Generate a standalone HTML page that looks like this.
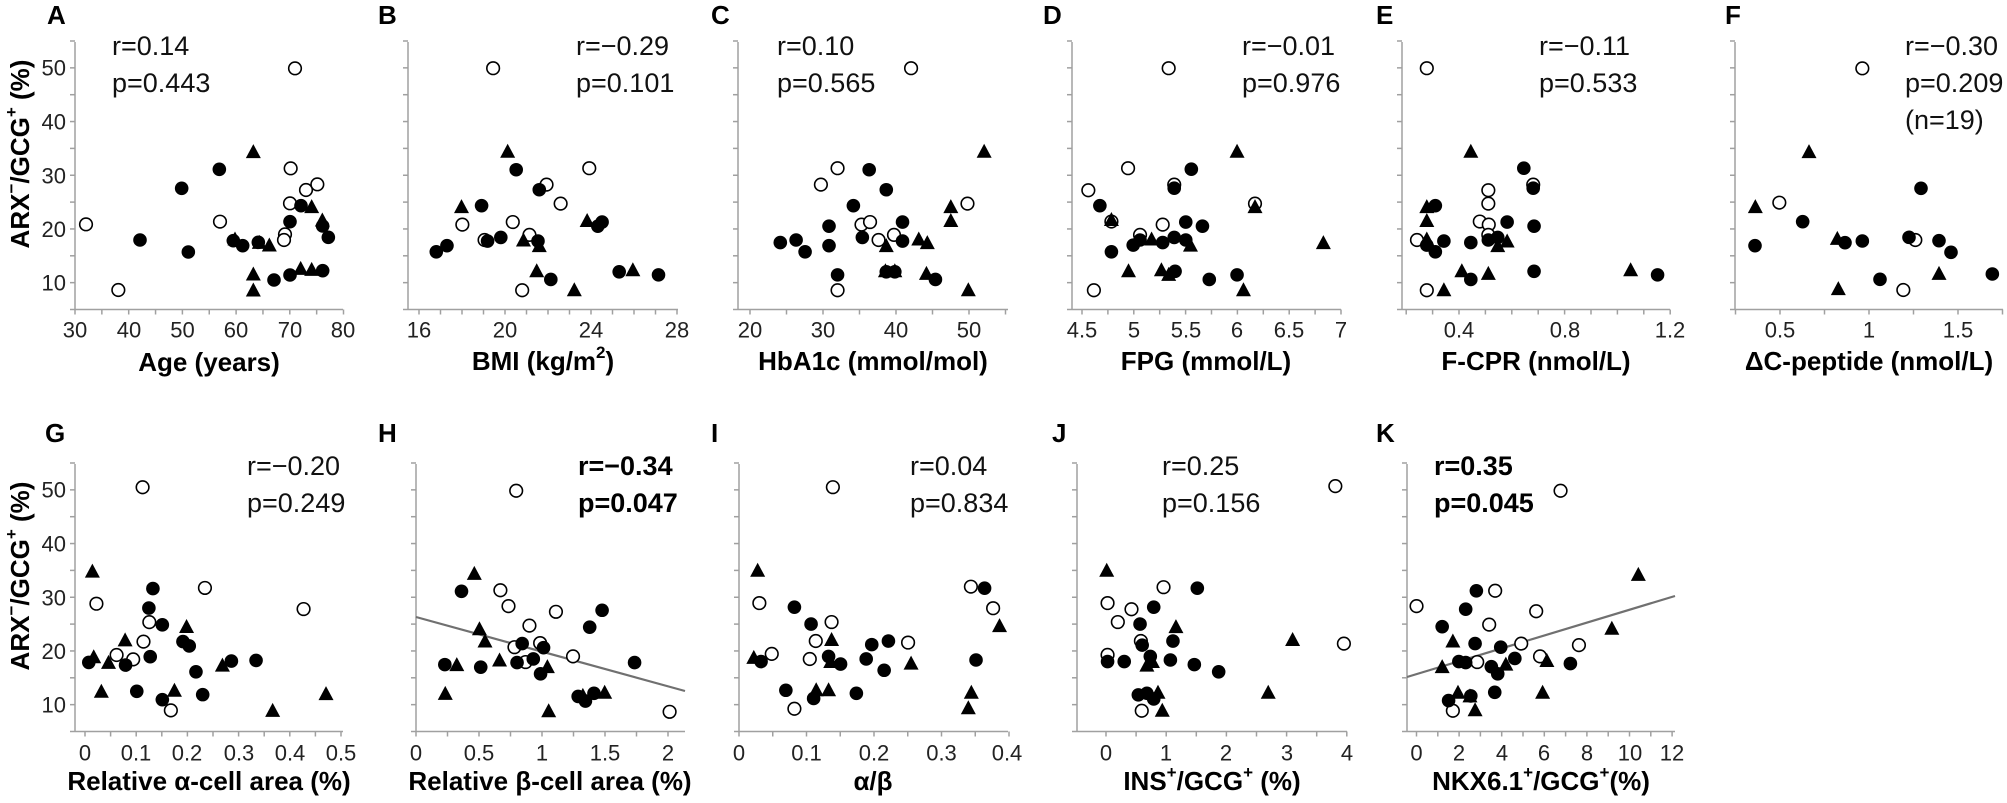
<!DOCTYPE html>
<html><head><meta charset="utf-8"><style>
html,body{margin:0;padding:0;background:#fff}
svg{display:block}
text{font-family:"Liberation Sans",Arial,sans-serif;fill:#222}
.t{font-size:22px;text-anchor:middle;dominant-baseline:central}
.yl{font-size:22px;text-anchor:end;dominant-baseline:central}
.ti{font-size:26px;font-weight:bold;text-anchor:middle;dominant-baseline:central;fill:#000}
.L{font-size:26px;font-weight:bold;dominant-baseline:central;fill:#000}
.s{font-size:27px;dominant-baseline:central;fill:#111}
.b{font-weight:bold;fill:#000}
</style></head><body>
<svg id="sv" width="2007" height="803" viewBox="0 0 2007 803" xmlns="http://www.w3.org/2000/svg">
<g id="ax" stroke="#a0a0a0" stroke-width="1.5" fill="none"></g>
<line x1="416" y1="617" x2="685" y2="691" stroke="#707070" stroke-width="2.2"/>
<line x1="1407" y1="677" x2="1675" y2="596" stroke="#707070" stroke-width="2.2"/>
<g id="m"></g>
<!-- letters -->
<text class="L" x="47" y="15">A</text><text class="L" x="378" y="15">B</text><text class="L" x="711" y="15">C</text>
<text class="L" x="1043" y="15">D</text><text class="L" x="1376" y="15">E</text><text class="L" x="1725" y="15">F</text>
<text class="L" x="45" y="433">G</text><text class="L" x="378" y="433">H</text><text class="L" x="711" y="433">I</text>
<text class="L" x="1052" y="433">J</text><text class="L" x="1376" y="433">K</text>
<!-- stats -->
<text class="s" x="112" y="46">r=0.14</text><text class="s" x="112" y="83">p=0.443</text>
<text class="s" x="576" y="46">r=−0.29</text><text class="s" x="576" y="83">p=0.101</text>
<text class="s" x="777" y="46">r=0.10</text><text class="s" x="777" y="83">p=0.565</text>
<text class="s" x="1242" y="46">r=−0.01</text><text class="s" x="1242" y="83">p=0.976</text>
<text class="s" x="1539" y="46">r=−0.11</text><text class="s" x="1539" y="83">p=0.533</text>
<text class="s" x="1905" y="46">r=−0.30</text><text class="s" x="1905" y="83">p=0.209</text><text class="s" x="1905" y="120">(n=19)</text>
<text class="s" x="247" y="466">r=−0.20</text><text class="s" x="247" y="503">p=0.249</text>
<text class="s b" x="578" y="466">r=−0.34</text><text class="s b" x="578" y="503">p=0.047</text>
<text class="s" x="910" y="466">r=0.04</text><text class="s" x="910" y="503">p=0.834</text>
<text class="s" x="1162" y="466">r=0.25</text><text class="s" x="1162" y="503">p=0.156</text>
<text class="s b" x="1434" y="466">r=0.35</text><text class="s b" x="1434" y="503">p=0.045</text>
<!-- y labels -->
<text class="yl" x="66" y="283">10</text><text class="yl" x="66" y="229.5">20</text><text class="yl" x="66" y="176">30</text><text class="yl" x="66" y="122">40</text><text class="yl" x="66" y="68">50</text>
<text class="yl" x="66" y="705">10</text><text class="yl" x="66" y="651.5">20</text><text class="yl" x="66" y="598">30</text><text class="yl" x="66" y="544">40</text><text class="yl" x="66" y="490">50</text>
<text class="ti" transform="translate(20,154) rotate(-90)">ARX<tspan font-size="17" dy="-9">−</tspan><tspan dy="9">/GCG</tspan><tspan font-size="17" dy="-9">+</tspan><tspan dy="9"> (%)</tspan></text>
<text class="ti" transform="translate(20,576) rotate(-90)">ARX<tspan font-size="17" dy="-9">−</tspan><tspan dy="9">/GCG</tspan><tspan font-size="17" dy="-9">+</tspan><tspan dy="9"> (%)</tspan></text>
<!-- x tick labels top -->
<g class="t">
<text class="t" x="75" y="330">30</text><text class="t" x="129" y="330">40</text><text class="t" x="182.5" y="330">50</text><text class="t" x="236" y="330">60</text><text class="t" x="290" y="330">70</text><text class="t" x="343" y="330">80</text>
<text class="t" x="419" y="330">16</text><text class="t" x="505" y="330">20</text><text class="t" x="591" y="330">24</text><text class="t" x="677" y="330">28</text>
<text class="t" x="750" y="330">20</text><text class="t" x="823" y="330">30</text><text class="t" x="896" y="330">40</text><text class="t" x="969" y="330">50</text>
<text class="t" x="1082" y="330">4.5</text><text class="t" x="1134" y="330">5</text><text class="t" x="1186" y="330">5.5</text><text class="t" x="1237" y="330">6</text><text class="t" x="1289" y="330">6.5</text><text class="t" x="1341" y="330">7</text>
<text class="t" x="1459" y="330">0.4</text><text class="t" x="1565" y="330">0.8</text><text class="t" x="1670" y="330">1.2</text>
<text class="t" x="1780" y="330">0.5</text><text class="t" x="1869" y="330">1</text><text class="t" x="1958" y="330">1.5</text>
<!-- bottom -->
<text class="t" x="85" y="753">0</text><text class="t" x="136" y="753">0.1</text><text class="t" x="187" y="753">0.2</text><text class="t" x="239" y="753">0.3</text><text class="t" x="290" y="753">0.4</text><text class="t" x="341" y="753">0.5</text>
<text class="t" x="416" y="753">0</text><text class="t" x="479" y="753">0.5</text><text class="t" x="542" y="753">1</text><text class="t" x="605" y="753">1.5</text><text class="t" x="668" y="753">2</text>
<text class="t" x="739" y="753">0</text><text class="t" x="806.5" y="753">0.1</text><text class="t" x="874" y="753">0.2</text><text class="t" x="941.5" y="753">0.3</text><text class="t" x="1007" y="753">0.4</text>
<text class="t" x="1106" y="753">0</text><text class="t" x="1166" y="753">1</text><text class="t" x="1226" y="753">2</text><text class="t" x="1287" y="753">3</text><text class="t" x="1347" y="753">4</text>
<text class="t" x="1416.5" y="753">0</text><text class="t" x="1459" y="753">2</text><text class="t" x="1502" y="753">4</text><text class="t" x="1544" y="753">6</text><text class="t" x="1587" y="753">8</text><text class="t" x="1630" y="753">10</text><text class="t" x="1672" y="753">12</text>
</g>
<!-- axis titles -->
<text class="ti" x="209" y="362">Age (years)</text>
<text class="ti" x="543" y="361">BMI (kg/m<tspan font-size="17" dy="-9">2</tspan><tspan dy="9">)</tspan></text>
<text class="ti" x="873" y="361">HbA1c (mmol/mol)</text>
<text class="ti" x="1206" y="361">FPG (mmol/L)</text>
<text class="ti" x="1536" y="361">F-CPR (nmol/L)</text>
<text class="ti" x="1869" y="361">ΔC-peptide (nmol/L)</text>
<text class="ti" x="209" y="781">Relative α-cell area (%)</text>
<text class="ti" x="550" y="781">Relative β-cell area (%)</text>
<text class="ti" x="873" y="781">α/β</text>
<text class="ti" x="1212" y="781">INS<tspan font-size="17" dy="-9">+</tspan><tspan dy="9">/GCG</tspan><tspan font-size="17" dy="-9">+</tspan><tspan dy="9"> (%)</tspan></text>
<text class="ti" x="1541" y="781">NKX6.1<tspan font-size="17" dy="-9">+</tspan><tspan dy="9">/GCG</tspan><tspan font-size="17" dy="-9">+</tspan><tspan dy="9">(%)</tspan></text>
</svg>
<script>
(function(){
var NS="http://www.w3.org/2000/svg";
var ax=document.getElementById('ax'),m=document.getElementById('m');
function el(p,n,a){var e=document.createElementNS(NS,n);for(var k in a)e.setAttribute(k,a[k]);p.appendChild(e);return e;}
var panels=[[75,343,0,[30,80,5.37,5]],[408,678,0,[16,28,21.5,1]],[738,1008,0,[20,50,7.3,5]],[1072,1341,0,[4.5,7,103.6,0.25]],[1402,1670,0,[0.4,1.2,264,0.1]],[1735,2003,0,[0.5,1.5,178,0.25]],
[75,343,1,[0,0.5,512,0.05],85],[416,685,1,[0,2,126,0.25]],[739,1008,1,[0,0.4,675,0.05]],[1077,1347,1,[0,4,60.2,0.5],1106],[1407,1675,1,[0,12,21.3,1],1416.5]];
var x0s=[75,419,750,1082,1459,1780,85,416,739,1106,1416.5];
panels.forEach(function(p,i){
 var off=p[2]?422:0, top=42+off, bot=309.5+off;
 el(ax,'line',{x1:p[0],y1:top,x2:p[0],y2:bot});
 el(ax,'line',{x1:p[0],y1:bot,x2:p[1],y2:bot});
 for(var v=5;v<=55;v+=5){var y=bot-(v-5)*5.37;el(ax,'line',{x1:p[0]-5,y1:y,x2:p[0],y2:y});}
 var t=p[3],x0=x0s[i];
 for(var k=-4;k<60;k++){var v=t[0]+k*t[3];var x=x0+(v-t[0])*t[2];if(x<p[0]-1||x>p[1]+1)continue;el(ax,'line',{x1:x,y1:bot,x2:x,y2:bot+5});}
});
function add(o,pts,type){pts.forEach(function(q){var x=o[0]+q[0]/o[2],y=o[1]+q[1]/o[3];
 if(type==0)el(m,'circle',{cx:x,cy:y,r:6.3,fill:'#fff',stroke:'#000','stroke-width':1.6});
 else if(type==1)el(m,'circle',{cx:x,cy:y,r:6.8,fill:'#000'});
 else el(m,'polygon',{points:(x-7.5)+','+(y+6.5)+' '+(x+7.5)+','+(y+6.5)+' '+x+','+(y-7.5),fill:'#000'});});}
var z4=[0,0,3,3],z5=[335,0,2.34,1.95],z6=[1005,0,2.34,1.95],z7=[1600,0,3,3],z2=[0,400,2.23,2.98];
// A
add(z4,[[258,673],[355,870],[660,665],[885,205],[872,505],[918,570],[952,553],[870,610],[855,703],[852,720]],0);
add(z4,[[420,720],[565,756],[545,565],[658,508],[700,722],[728,737],[775,727],[822,840],[870,825],[870,665],[903,617],[968,678],[968,812],[985,712]],1);
add(z4,[[705,717],[760,455],[760,822],[760,870],[808,735],[778,727],[902,805],[935,808],[935,620],[967,660]],2);
// B
add(z5,[[370,133],[595,328],[495,360],[528,397],[298,438],[416,433],[455,458],[350,468],[438,566]],0);
add(z5,[[237,491],[262,479],[343,401],[424,331],[478,370],[357,470],[388,463],[475,470],[615,441],[625,433],[505,545],[665,530],[757,536]],1);
add(z5,[[404,295],[296,403],[441,468],[478,479],[472,528],[560,565],[590,430],[697,526]],2);
// C
add(z5,[[1348,133],[1176,328],[1137,360],[1480,397],[1232,438],[1252,433],[1308,458],[1272,468],[1176,566]],0);
add(z5,[[1250,331],[1290,370],[1213,401],[1156,441],[1328,433],[1234,463],[1042,473],[1079,468],[1100,491],[1156,479],[1328,470],[1176,536],[1405,545],[1290,530],[1310,530]],1);
add(z5,[[1519,295],[1441,403],[1441,430],[1366,466],[1386,473],[1290,479],[1288,528],[1310,528],[1384,533],[1482,565]],2);
// H
add(z5,[[424,957],[387,1151],[406,1182],[517,1193],[455,1220],[480,1254],[420,1262],[557,1280],[446,1291],[783,1388]],0);
add(z5,[[296,1153],[625,1190],[596,1223],[438,1255],[488,1263],[464,1285],[426,1292],[257,1296],[341,1301],[481,1314],[701,1292],[569,1358],[586,1367],[606,1352]],1);
add(z5,[[326,1118],[338,1226],[351,1250],[385,1287],[285,1296],[497,1300],[258,1352],[500,1386],[580,1356],[631,1350]],2);
// I
add(z5,[[1165,950],[993,1176],[1488,1144],[1540,1186],[1162,1213],[1125,1250],[1341,1253],[1022,1275],[1111,1285],[1075,1382]],0);
add(z5,[[1520,1147],[1075,1184],[1114,1217],[1295,1250],[1256,1257],[1155,1280],[997,1290],[1183,1295],[1243,1285],[1285,1307],[1500,1287],[1055,1346],[1120,1362],[1220,1352]],1);
add(z5,[[989,1112],[1555,1220],[1162,1247],[980,1282],[1160,1290],[1348,1293],[1126,1345],[1155,1345],[1489,1350],[1482,1380]],2);
// D
add(z6,[[383,133],[288,328],[396,360],[195,371],[585,397],[249,432],[369,438],[316,458],[208,566]],0);
add(z6,[[436,330],[396,367],[222,401],[423,433],[462,441],[249,491],[300,478],[316,468],[369,473],[396,463],[423,468],[398,529],[478,545],[543,536]],1);
add(z6,[[543,295],[249,428],[343,466],[434,478],[585,403],[745,473],[289,528],[366,526],[383,535],[558,565]],2);
// E
add(z6,[[987,133],[1236,360],[1131,371],[1131,397],[1111,432],[1132,438],[1131,458],[964,468],[987,566]],0);
add(z6,[[1214,328],[1236,367],[1007,401],[1175,433],[1238,441],[1027,470],[1090,473],[1131,468],[1153,463],[987,478],[1007,491],[1090,545],[1238,529],[1527,536]],1);
add(z6,[[1090,295],[987,403],[987,430],[987,466],[1153,479],[1175,470],[1069,528],[1131,533],[1027,565],[1464,526]],2);
// J
add(z6,[[773,948],[371,1145],[240,1176],[296,1188],[264,1213],[318,1250],[793,1255],[240,1277],[320,1386]],0);
add(z6,[[450,1147],[348,1184],[316,1217],[393,1250],[321,1258],[240,1290],[279,1290],[340,1280],[387,1287],[443,1296],[500,1310],[312,1355],[332,1352],[348,1363]],1);
add(z6,[[238,1112],[400,1222],[673,1247],[345,1290],[332,1297],[616,1350],[358,1350],[368,1385]],2);
// K
add(z6,[[1300,957],[963,1182],[1147,1152],[1133,1218],[1243,1192],[1208,1255],[1343,1258],[1252,1280],[1105,1291],[1048,1386]],0);
add(z6,[[1103,1152],[1078,1188],[1023,1222],[1100,1255],[1160,1262],[1193,1284],[1062,1290],[1078,1292],[1138,1300],[1153,1314],[1323,1294],[1038,1366],[1090,1357],[1146,1350]],1);
add(z6,[[1482,1120],[1420,1225],[1048,1250],[1268,1288],[1172,1295],[1023,1300],[1060,1350],[1088,1357],[1258,1350],[1100,1384]],2);
// F
add(z7,[[787,205],[538,608],[946,720],[910,870]],0);
add(z7,[[963,565],[608,665],[465,737],[735,728],[787,723],[927,712],[1017,722],[1053,757],[840,838],[1177,822]],1);
add(z7,[[627,455],[466,620],[712,715],[1017,820],[715,866]],2);
// G
add(z2,[[318,260],[215,607],[457,560],[677,623],[333,662],[320,720],[260,760],[297,773],[381,925]],0);
add(z2,[[341,562],[332,620],[362,670],[408,720],[422,733],[198,782],[280,790],[335,765],[437,810],[305,868],[362,893],[452,878],[516,778],[571,776]],1);
add(z2,[[206,510],[209,765],[279,715],[242,782],[416,675],[496,790],[389,865],[226,868],[608,925],[727,875]],2);
})();
</script>
</body></html>
